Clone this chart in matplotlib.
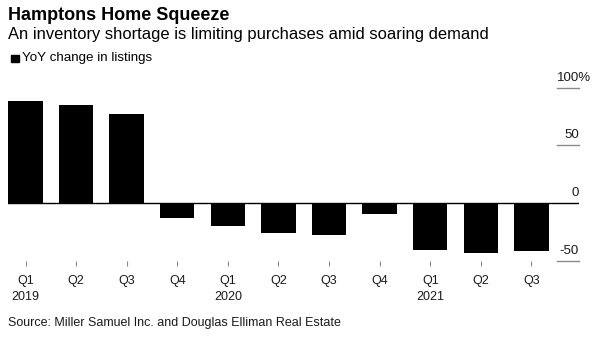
import matplotlib
matplotlib.use("Agg")
import matplotlib.pyplot as plt

plt.rcParams['font.family'] = ['Liberation Sans', 'DejaVu Sans']

# Year-over-year change in Hamptons listings, by quarter (%)
quarters = ["Q1", "Q2", "Q3", "Q4", "Q1", "Q2", "Q3", "Q4", "Q1", "Q2", "Q3"]
years = ["2019", "", "", "", "2020", "", "", "", "2021", "", ""]
yoy_change = [88.5, 84.7, 77.4, -12.7, -20.2, -25.8, -28.0, -9.5, -40.5, -43.4, -41.4]
y_ticks = [-50, 0, 50, 100]
y_tick_labels = ["-50", "0", "50", "100%"]

W, H = 600, 337
fig = plt.figure(figsize=(W / 100, H / 100), dpi=100)
fig.patch.set_facecolor("white")

left_px, right_px, top_px, bottom_px = 8.3, 579, 87.7, 260.7
ax = fig.add_axes([left_px / W, 1 - bottom_px / H,
                   (right_px - left_px) / W, (bottom_px - top_px) / H])

x = list(range(len(yoy_change)))
bar_w = 0.68
ax.bar(x, yoy_change, width=bar_w, color="black", zorder=2)

ax.set_xlim(-bar_w / 2, 10.94)
ax.set_ylim(-50, 100)

for s in ax.spines.values():
    s.set_visible(False)

# zero baseline
ax.axhline(0, xmin=0, xmax=1, color="black", lw=1.0, zorder=3)

# right-side value guides with labels sitting above them
tick_fs = 9.5
tick_start = (557 - left_px) / (right_px - left_px)
ytrans = ax.get_yaxis_transform()
for val, lab in zip(y_ticks, y_tick_labels):
    if val != 0:
        ax.plot([tick_start, 1.0], [val, val], transform=ytrans,
                color="#8a8a8a", lw=1.0, clip_on=False, zorder=1)
    dx = tick_fs * 0.889 if lab.endswith("%") else 0
    ax.annotate(lab, xy=(1.0, val), xycoords=ytrans,
                xytext=(dx, 3.0), textcoords="offset points",
                ha="right", va="bottom", fontsize=tick_fs, color="#1a1a1a")
ax.set_yticks([])

labels = [q + ("\n" + y if y else "") for q, y in zip(quarters, years)]
ax.set_xticks(x)
ax.set_xticklabels(labels, fontsize=9.0, color="#1a1a1a", va="top")
ax.tick_params(axis="x", length=3.6, width=0.8, color="#8a8a8a", pad=6.5)
for t in ax.get_xticklabels():
    t.set_linespacing(1.45)

fig.text(8.3 / W, 1 - 15.5 / H, "Hamptons Home Squeeze", fontsize=13,
         fontweight="bold", color="black", ha="left", va="center")
fig.text(8.3 / W, 1 - 35 / H,
         "An inventory shortage is limiting purchases amid soaring demand",
         fontsize=11.9, color="black", ha="left", va="center")
fig.patches.append(plt.Rectangle((11 / W, 1 - 62.3 / H), 8 / W, 7.6 / H,
                                 transform=fig.transFigure, color="black"))
fig.text(22.3 / W, 1 - 58.3 / H, "YoY change in listings", fontsize=9.6,
         color="black", ha="left", va="center")
fig.text(8.3 / W, 1 - 323.3 / H,
         "Source: Miller Samuel Inc. and Douglas Elliman Real Estate",
         fontsize=9.0, color="#1a1a1a", ha="left", va="center")

fig.savefig("out.png", dpi=100, facecolor="white")
